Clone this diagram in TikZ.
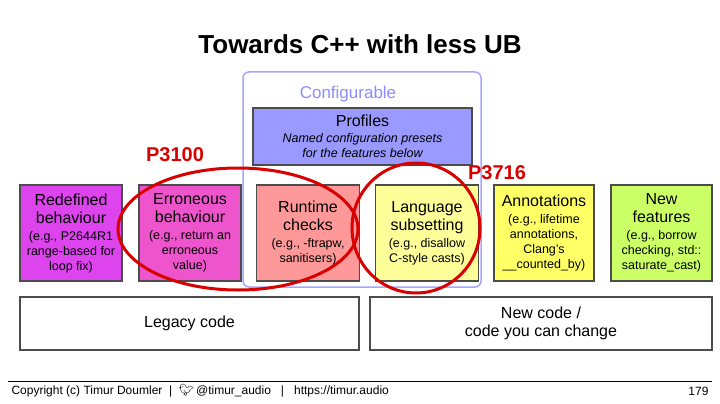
\documentclass[tikz,border=0pt]{standalone}
\usepackage{fontspec}
\setmainfont{Liberation Sans}
\newfontfamily\emj{Noto Emoji}
\definecolor{cprof}{RGB}{153,153,255}
\definecolor{c1}{RGB}{221,68,238}
\definecolor{c2}{RGB}{238,85,204}
\definecolor{c3}{RGB}{255,153,153}
\definecolor{c4}{RGB}{255,255,153}
\definecolor{c5}{RGB}{255,255,102}
\definecolor{c6}{RGB}{204,255,102}
\begin{document}
\begin{tikzpicture}[x=1pt,y=-1pt,
  bx/.style={draw=black!70,line width=1.2pt,align=center,inner sep=1pt,font=\fontsize{16}{18}\selectfont},
  red1/.style={draw=red!85!black,line width=3pt}]
\fill[white] (0,0) rectangle (720,404);
\useasboundingbox (0,0) rectangle (720,404);
\newcommand\smx[1]{{\fontsize{12.5}{14}\selectfont #1}}
\node[font=\bfseries\fontsize{26}{28}\selectfont] (title) at (360,44) {Towards C++ with less UB};
\draw[draw=blue!35,line width=1.5pt,rounded corners=6pt] (243,72) rectangle (481,287);
\node[text=blue!45,font=\fontsize{17}{19}\selectfont] (cfg) at (348,94) {Configurable};
\node[bx,fill=cprof,minimum width=219pt,minimum height=57pt] (prof) at (362.5,136.5) {Profiles\\[-2pt]\smx{\itshape Named configuration presets}\\[-3pt]\smx{\itshape for the features below}};
\node[bx,fill=c1,minimum width=102pt,minimum height=96pt] (b1) at (71,233) {Redefined\\behaviour\\[-1pt]\smx{(e.g., P2644R1}\\[-3pt]\smx{range-based for}\\[-3pt]\smx{loop fix)}};
\node[bx,fill=c2,minimum width=102pt,minimum height=96pt] (b2) at (190,233) {Erroneous\\behaviour\\[-1pt]\smx{(e.g., return an}\\[-3pt]\smx{erroneous}\\[-3pt]\smx{value)}};
\node[bx,fill=c3,minimum width=103pt,minimum height=96pt] (b3) at (308,233) {Runtime\\checks\\[-1pt]\smx{(e.g., -ftrapw,}\\[-3pt]\smx{sanitisers)}};
\node[bx,fill=c4,minimum width=103pt,minimum height=96pt] (b4) at (427,233) {Language\\subsetting\\[-1pt]\smx{(e.g., disallow}\\[-3pt]\smx{C-style casts)}};
\node[bx,fill=c5,minimum width=100pt,minimum height=96pt] (b5) at (544,233) {Annotations\\[-1pt]\smx{(e.g., lifetime}\\[-3pt]\smx{annotations,}\\[-3pt]\smx{Clang's}\\[-3pt]\smx{\_\_counted\_by)}};
\node[bx,fill=c6,minimum width=101pt,minimum height=96pt] (b6) at (661.5,233) {New\\features\\[-1pt]\smx{(e.g., borrow}\\[-3pt]\smx{checking, std::}\\[-3pt]\smx{saturate\_cast)}};
\node[bx,fill=white,minimum width=339pt,minimum height=53pt] (legacy) at (189.5,323.5) {Legacy code};
\node[bx,fill=white,minimum width=342pt,minimum height=53pt] (newc) at (541,323.5) {New code /\\code you can change};
\draw[red1] (238,229) ellipse [x radius=120, y radius=61];
\draw[red1] (416,228) ellipse [x radius=64, y radius=65];
\node[text=red!85!black,font=\bfseries\fontsize{20}{22}\selectfont] (p1) at (175,155) {P3100};
\node[text=red!85!black,font=\bfseries\fontsize{20}{22}\selectfont] (p2) at (497,173) {P3716};
\coordinate (l1) at (8,381); \coordinate (l2) at (712,381);
\draw[line width=1pt] (l1) -- (l2);
\node[anchor=west,font=\fontsize{12}{14}\selectfont] (foot) at (8,391) {Copyright (c) Timur Doumler\ \ |\ \ {\emj\symbol{"1F426}}\,@timur\_audio\ \ \ |\ \ \ https://timur.audio};
\node[anchor=east,font=\fontsize{12}{14}\selectfont] (pg) at (712,391) {179};
\end{tikzpicture}
\end{document}
